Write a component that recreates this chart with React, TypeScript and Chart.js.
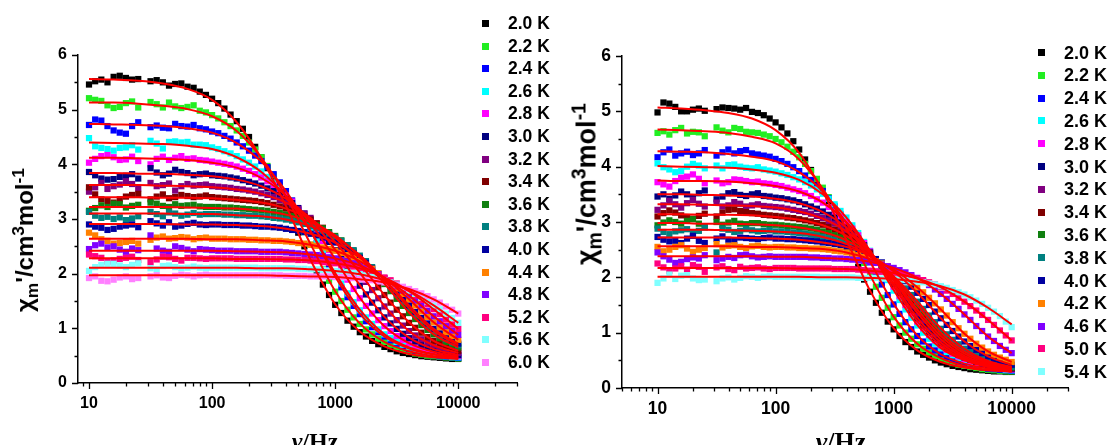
import React, { useEffect, useRef } from 'react';
import { Chart, registerables } from 'chart.js';

Chart.register(...registerables);

// ---------- frequencies (Hz) of the measured points ----------
const FREQ = [10, 11.22, 12.59, 14.13, 15.85, 17.78, 19.95, 22.39, 25.12, 28.18,
  31.62, 35.48, 39.81, 44.67, 50.12, 56.23, 63.1, 70.79, 79.43, 89.13,
  100, 112.2, 125.9, 141.3, 158.5, 177.8, 199.5, 223.9, 251.2, 281.8,
  316.2, 354.8, 398.1, 446.7, 501.2, 562.3, 631, 707.9, 794.3, 891.3,
  1000, 1122, 1259, 1413, 1585, 1778, 1995, 2239, 2512, 2818,
  3162, 3548, 3981, 4467, 5012, 5623, 6310, 7079, 7943, 8913, 10000];
// frequencies at which the fitted curves are tabulated
const FIT_FREQ = [10, 15.85, 25.12, 39.81, 63.1, 100, 158.5, 251.2, 398.1, 631, 1000, 1585, 2512, 3981, 6310, 10000];

// ---------- axis ticks ----------
const X_LABELS = [10, 100, 1000, 10000];
const TICK_MULTS = [1, 2, 3, 4, 5, 6, 7, 8, 9];
const DECADES = [10, 100, 1000];
const LEFT_X_TICKS = [9, ...DECADES.flatMap((d) => TICK_MULTS.map((m) => m * d)), 10000, 20000, 30000];
const RIGHT_X_TICKS = [5, 6, 7, 8, 9, ...DECADES.flatMap((d) => TICK_MULTS.map((m) => m * d)), 10000, 20000, 30000];

// ---------- legends ----------
const LEFT_TEMPS = ['2.0 K', '2.2 K', '2.4 K', '2.6 K', '2.8 K', '3.0 K', '3.2 K', '3.4 K', '3.6 K', '3.8 K', '4.0 K', '4.4 K', '4.8 K', '5.2 K', '5.6 K', '6.0 K'];
const RIGHT_TEMPS = ['2.0 K', '2.2 K', '2.4 K', '2.6 K', '2.8 K', '3.0 K', '3.2 K', '3.4 K', '3.6 K', '3.8 K', '4.0 K', '4.2 K', '4.6 K', '5.0 K', '5.4 K'];
const PALETTE = ['#000000', '#22ee22', '#0000ff', '#00ffff', '#ff00ff', '#000080', '#800080', '#800000', '#108010', '#008080', '#0000a0', '#ff8000', '#8000ff', '#ff0080', '#80ffff', '#ff80ff'];
const FIT_COLOR = '#ff0000';

// ---------- left panel: measured data (χm' / cm3 mol-1) ----------
const L20 = [5.46, 5.52, 5.55, 5.50, 5.60, 5.62, 5.58, 5.55, 5.56, null, 5.52, 5.54, 5.50, 5.44, 5.47, 5.48, 5.42, 5.40, 5.33, 5.27, 5.20, 5.12, 5.02, 4.91, 4.79, 4.65, 4.50, 4.32, 4.13, 3.93, 3.72, 3.49, 3.25, 3.00, 2.75, 2.50, 2.25, 2.02, 1.80, 1.61, 1.43, 1.28, 1.14, 1.03, 0.93, 0.85, 0.77, 0.71, 0.66, 0.62, 0.58, 0.55, 0.53, 0.51, 0.49, 0.48, 0.47, 0.46, 0.45, 0.44, 0.44];
const L22 = [5.21, 5.18, 5.16, 5.08, 5.03, 5.05, 5.12, 5.15, 5.04, null, 5.14, 5.10, 5.04, 5.13, 5.06, 5.03, 5.05, 5.08, 4.98, 4.95, 4.90, 4.84, 4.77, 4.70, 4.62, 4.52, 4.40, 4.27, 4.13, 3.97, 3.80, 3.62, 3.42, 3.21, 2.99, 2.76, 2.53, 2.30, 2.08, 1.87, 1.67, 1.50, 1.34, 1.20, 1.08, 0.98, 0.89, 0.81, 0.75, 0.70, 0.65, 0.61, 0.57, 0.54, 0.52, 0.50, 0.49, 0.48, 0.47, 0.46, 0.45];
const L24 = [4.72, 4.82, 4.80, 4.70, 4.62, 4.58, 4.56, 4.70, 4.77, null, 4.68, 4.71, 4.67, 4.66, 4.74, 4.70, 4.69, 4.72, 4.66, 4.64, 4.60, 4.57, 4.52, 4.47, 4.40, 4.33, 4.25, 4.16, 4.06, 3.95, 3.82, 3.67, 3.51, 3.34, 3.16, 2.97, 2.77, 2.56, 2.35, 2.15, 1.94, 1.75, 1.57, 1.41, 1.26, 1.13, 1.02, 0.93, 0.85, 0.78, 0.72, 0.67, 0.62, 0.59, 0.56, 0.53, 0.51, 0.49, 0.48, 0.47, 0.46];
const L26 = [4.48, 4.33, 4.30, 4.28, 4.25, 4.30, 4.31, 4.35, 4.27, null, 4.43, 4.38, 4.29, 4.41, 4.42, 4.40, 4.41, 4.36, 4.36, 4.35, 4.31, 4.28, 4.24, 4.20, 4.15, 4.09, 4.03, 3.96, 3.87, 3.77, 3.67, 3.55, 3.41, 3.27, 3.11, 2.95, 2.77, 2.59, 2.40, 2.21, 2.01, 1.82, 1.64, 1.48, 1.33, 1.20, 1.08, 0.98, 0.89, 0.82, 0.75, 0.70, 0.65, 0.61, 0.58, 0.55, 0.53, 0.51, 0.49, 0.48, 0.47];
const L28 = [4.03, 4.10, 4.15, 4.17, 4.13, 4.08, 4.09, 4.14, 4.06, null, 4.00, 4.10, 4.14, 4.08, 4.12, 4.15, 4.10, 4.11, 4.08, 4.07, 4.05, 4.03, 4.01, 3.99, 3.96, 3.92, 3.88, 3.82, 3.76, 3.69, 3.62, 3.53, 3.43, 3.32, 3.20, 3.06, 2.92, 2.76, 2.60, 2.43, 2.26, 2.08, 1.89, 1.72, 1.55, 1.41, 1.27, 1.15, 1.04, 0.95, 0.86, 0.79, 0.73, 0.68, 0.63, 0.60, 0.57, 0.54, 0.52, 0.50, 0.49];
const L30 = [3.86, 3.80, 3.74, 3.72, 3.73, 3.77, 3.79, 3.82, 3.74, null, 3.93, 3.85, 3.80, 3.83, 3.90, 3.86, 3.84, 3.80, 3.82, 3.83, 3.80, 3.79, 3.78, 3.76, 3.74, 3.71, 3.68, 3.65, 3.61, 3.56, 3.51, 3.44, 3.37, 3.29, 3.20, 3.10, 2.99, 2.86, 2.73, 2.58, 2.43, 2.28, 2.12, 1.95, 1.78, 1.62, 1.47, 1.33, 1.20, 1.09, 0.99, 0.90, 0.82, 0.76, 0.70, 0.66, 0.62, 0.59, 0.56, 0.53, 0.51];
const L32 = [3.50, 3.58, 3.66, 3.55, 3.60, 3.63, 3.69, 3.64, 3.56, null, 3.66, 3.60, 3.62, 3.65, 3.52, 3.60, 3.64, 3.61, 3.62, 3.63, 3.60, 3.59, 3.58, 3.57, 3.55, 3.54, 3.52, 3.50, 3.47, 3.44, 3.40, 3.35, 3.30, 3.24, 3.18, 3.10, 3.02, 2.92, 2.82, 2.70, 2.58, 2.45, 2.31, 2.16, 2.01, 1.85, 1.70, 1.55, 1.40, 1.27, 1.15, 1.05, 0.95, 0.87, 0.80, 0.74, 0.69, 0.65, 0.61, 0.58, 0.55];
const L34 = [3.58, 3.45, 3.36, 3.33, 3.30, 3.36, 3.41, 3.44, 3.46, null, 3.36, 3.41, 3.45, 3.38, 3.40, 3.44, 3.42, 3.40, 3.41, 3.43, 3.40, 3.39, 3.38, 3.37, 3.36, 3.35, 3.34, 3.33, 3.31, 3.29, 3.26, 3.23, 3.19, 3.15, 3.10, 3.05, 2.99, 2.92, 2.84, 2.75, 2.65, 2.54, 2.43, 2.31, 2.18, 2.04, 1.90, 1.75, 1.61, 1.47, 1.34, 1.22, 1.10, 1.01, 0.92, 0.84, 0.77, 0.72, 0.67, 0.63, 0.59];
const L36 = [3.15, 3.20, 3.25, 3.22, 3.28, 3.27, 3.21, 3.24, 3.26, null, 3.30, 3.28, 3.24, 3.22, 3.27, 3.24, 3.25, 3.26, 3.23, 3.22, 3.22, 3.22, 3.21, 3.21, 3.20, 3.19, 3.18, 3.17, 3.16, 3.15, 3.13, 3.11, 3.08, 3.05, 3.02, 2.98, 2.94, 2.89, 2.83, 2.76, 2.69, 2.61, 2.52, 2.41, 2.30, 2.19, 2.07, 1.94, 1.81, 1.68, 1.54, 1.41, 1.28, 1.17, 1.06, 0.97, 0.89, 0.82, 0.75, 0.70, 0.65];
const L38 = [3.13, 3.06, 3.02, 3.04, 3.00, 3.03, 2.98, 3.01, 3.05, null, 3.13, 3.09, 3.05, 3.12, 3.10, 3.06, 3.08, 3.11, 3.08, 3.09, 3.09, 3.09, 3.08, 3.08, 3.07, 3.07, 3.06, 3.06, 3.05, 3.04, 3.02, 3.01, 2.99, 2.97, 2.94, 2.91, 2.87, 2.83, 2.79, 2.73, 2.67, 2.60, 2.52, 2.43, 2.33, 2.23, 2.12, 2.00, 1.88, 1.75, 1.62, 1.49, 1.37, 1.25, 1.14, 1.04, 0.95, 0.87, 0.80, 0.74, 0.69];
const L40 = [2.90, 2.86, 2.84, 2.80, 2.82, 2.86, 2.88, 2.90, 2.85, null, 2.96, 2.92, 2.88, 2.94, 2.86, 2.88, 2.91, 2.93, 2.90, 2.89, 2.90, 2.90, 2.89, 2.89, 2.89, 2.88, 2.88, 2.87, 2.86, 2.86, 2.85, 2.84, 2.82, 2.80, 2.78, 2.76, 2.73, 2.70, 2.66, 2.62, 2.57, 2.51, 2.44, 2.37, 2.29, 2.20, 2.10, 2.00, 1.89, 1.78, 1.66, 1.54, 1.42, 1.30, 1.19, 1.09, 0.99, 0.91, 0.84, 0.78, 0.72];
const L44 = [2.75, 2.70, 2.63, 2.60, 2.55, 2.56, 2.58, 2.60, 2.55, null, 2.62, 2.66, 2.68, 2.64, 2.65, 2.67, 2.66, 2.63, 2.65, 2.66, 2.64, 2.64, 2.64, 2.63, 2.63, 2.63, 2.62, 2.62, 2.61, 2.61, 2.60, 2.60, 2.59, 2.58, 2.56, 2.55, 2.53, 2.51, 2.48, 2.45, 2.42, 2.38, 2.34, 2.29, 2.23, 2.16, 2.09, 2.01, 1.92, 1.83, 1.73, 1.63, 1.53, 1.42, 1.31, 1.21, 1.11, 1.02, 0.93, 0.86, 0.79];
const L48 = [2.45, 2.52, 2.55, 2.48, 2.50, 2.44, 2.40, 2.46, 2.43, null, 2.70, 2.46, 2.42, 2.40, 2.50, 2.47, 2.44, 2.41, 2.45, 2.44, 2.43, 2.42, 2.42, 2.42, 2.41, 2.41, 2.41, 2.41, 2.40, 2.40, 2.40, 2.40, 2.39, 2.38, 2.37, 2.36, 2.35, 2.34, 2.32, 2.30, 2.28, 2.25, 2.22, 2.19, 2.15, 2.10, 2.05, 1.99, 1.92, 1.85, 1.77, 1.69, 1.60, 1.51, 1.42, 1.32, 1.22, 1.13, 1.04, 0.96, 0.88];
const L52 = [2.35, 2.32, 2.29, 2.22, 2.24, 2.27, 2.29, 2.31, 2.25, null, 2.21, 2.26, 2.31, 2.30, 2.27, 2.24, 2.29, 2.29, 2.28, 2.27, 2.28, 2.28, 2.28, 2.28, 2.27, 2.27, 2.27, 2.27, 2.27, 2.27, 2.27, 2.27, 2.26, 2.26, 2.25, 2.25, 2.24, 2.23, 2.21, 2.20, 2.19, 2.17, 2.15, 2.13, 2.10, 2.07, 2.03, 1.98, 1.93, 1.88, 1.82, 1.75, 1.68, 1.60, 1.52, 1.44, 1.35, 1.26, 1.16, 1.07, 0.99];
const L56 = [2.05, 2.12, 2.16, 2.18, 2.18, 2.15, 2.12, 2.16, 2.19, null, 2.10, 2.08, 2.14, 2.15, 2.12, 2.10, 2.11, 2.13, 2.11, 2.10, 2.11, 2.11, 2.11, 2.11, 2.11, 2.11, 2.11, 2.11, 2.10, 2.10, 2.10, 2.10, 2.10, 2.10, 2.09, 2.09, 2.08, 2.08, 2.07, 2.06, 2.05, 2.04, 2.03, 2.01, 1.99, 1.97, 1.94, 1.91, 1.88, 1.84, 1.80, 1.75, 1.69, 1.63, 1.56, 1.49, 1.42, 1.35, 1.27, 1.19, 1.10];
const L60 = [1.92, 1.95, 1.87, 1.86, 1.89, 1.93, 1.95, 1.90, 1.92, null, 1.95, 1.97, 1.93, 1.92, 1.96, 1.98, 1.97, 1.95, 1.97, 1.98, 1.97, 1.97, 1.97, 1.97, 1.97, 1.97, 1.97, 1.97, 1.97, 1.97, 1.97, 1.97, 1.96, 1.96, 1.96, 1.96, 1.95, 1.95, 1.95, 1.95, 1.94, 1.94, 1.93, 1.92, 1.90, 1.89, 1.88, 1.86, 1.84, 1.82, 1.79, 1.76, 1.72, 1.68, 1.64, 1.59, 1.53, 1.47, 1.40, 1.34, 1.27];

// ---------- left panel: fitted curves ----------
const L20F = [5.56, 5.55, 5.53, 5.48, 5.38, 5.18, 4.77, 4.11, 3.24, 2.25, 1.44, 0.94, 0.67, 0.53, 0.47, 0.44];
const L22F = [5.13, 5.13, 5.11, 5.07, 5.01, 4.88, 4.61, 4.12, 3.42, 2.54, 1.68, 1.09, 0.75, 0.58, 0.49, 0.45];
const L24F = [4.74, 4.73, 4.72, 4.70, 4.66, 4.58, 4.39, 4.05, 3.51, 2.78, 1.95, 1.27, 0.85, 0.63, 0.52, 0.46];
const L26F = [4.40, 4.39, 4.38, 4.37, 4.34, 4.28, 4.13, 3.86, 3.41, 2.77, 2.01, 1.34, 0.89, 0.65, 0.53, 0.47];
const L28F = [4.12, 4.12, 4.11, 4.10, 4.08, 4.03, 3.94, 3.75, 3.43, 2.92, 2.27, 1.56, 1.04, 0.73, 0.57, 0.49];
const L30F = [3.84, 3.84, 3.83, 3.83, 3.81, 3.78, 3.72, 3.60, 3.37, 2.99, 2.44, 1.79, 1.21, 0.83, 0.62, 0.51];
const L32F = [3.62, 3.62, 3.62, 3.61, 3.60, 3.58, 3.54, 3.46, 3.30, 3.02, 2.58, 2.02, 1.41, 0.95, 0.69, 0.55];
const L34F = [3.40, 3.40, 3.40, 3.39, 3.39, 3.38, 3.35, 3.30, 3.19, 2.99, 2.66, 2.18, 1.61, 1.11, 0.77, 0.59];
const L36F = [3.22, 3.22, 3.22, 3.22, 3.21, 3.20, 3.19, 3.15, 3.08, 2.94, 2.70, 2.31, 1.82, 1.29, 0.89, 0.65];
const L38F = [3.10, 3.10, 3.10, 3.10, 3.09, 3.09, 3.07, 3.05, 2.99, 2.87, 2.67, 2.34, 1.88, 1.37, 0.95, 0.69];
const L40F = [2.91, 2.91, 2.91, 2.91, 2.90, 2.90, 2.89, 2.87, 2.82, 2.73, 2.57, 2.29, 1.89, 1.42, 0.99, 0.72];
const L44F = [2.64, 2.64, 2.64, 2.64, 2.64, 2.63, 2.63, 2.61, 2.59, 2.53, 2.42, 2.23, 1.92, 1.53, 1.11, 0.79];
const L48F = [2.42, 2.42, 2.42, 2.42, 2.42, 2.42, 2.41, 2.40, 2.39, 2.35, 2.28, 2.15, 1.92, 1.60, 1.22, 0.88];
const L52F = [2.28, 2.28, 2.28, 2.28, 2.28, 2.28, 2.27, 2.27, 2.26, 2.24, 2.19, 2.10, 1.93, 1.68, 1.35, 0.99];
const L56F = [2.11, 2.11, 2.11, 2.11, 2.11, 2.11, 2.11, 2.10, 2.10, 2.08, 2.05, 1.99, 1.88, 1.69, 1.42, 1.10];
const L60F = [1.97, 1.97, 1.97, 1.97, 1.97, 1.97, 1.97, 1.97, 1.96, 1.95, 1.94, 1.90, 1.84, 1.72, 1.53, 1.27];

// ---------- right panel: measured data ----------
const R20 = [4.98, 5.16, 5.14, 5.08, 5.00, 5.00, 5.03, 5.05, 5.01, null, 5.04, 5.07, 5.06, 5.05, 5.03, 5.06, 4.99, 4.97, 4.93, 4.87, 4.80, 4.71, 4.60, 4.46, 4.31, 4.13, 3.94, 3.75, 3.55, 3.34, 3.13, 2.91, 2.68, 2.43, 2.19, 1.96, 1.74, 1.54, 1.36, 1.20, 1.06, 0.94, 0.83, 0.74, 0.66, 0.60, 0.55, 0.50, 0.46, 0.43, 0.40, 0.38, 0.36, 0.34, 0.33, 0.32, 0.31, 0.30, 0.30, 0.29, 0.29];
const R22 = [4.61, 4.64, 4.58, 4.66, 4.70, 4.60, 4.63, 4.62, 4.55, null, 4.71, 4.65, 4.62, 4.70, 4.68, 4.63, 4.62, 4.61, 4.58, 4.55, 4.50, 4.44, 4.36, 4.27, 4.17, 4.05, 3.92, 3.78, 3.62, 3.45, 3.27, 3.08, 2.89, 2.69, 2.48, 2.26, 2.03, 1.83, 1.63, 1.45, 1.28, 1.13, 1.00, 0.89, 0.79, 0.71, 0.64, 0.58, 0.53, 0.49, 0.45, 0.42, 0.40, 0.38, 0.36, 0.34, 0.33, 0.32, 0.31, 0.30, 0.30];
const R24 = [4.17, 4.26, 4.31, 4.20, 4.24, 4.27, 4.21, 4.24, 4.30, null, 4.20, 4.26, 4.31, 4.24, 4.28, 4.30, 4.24, 4.22, 4.20, 4.18, 4.14, 4.10, 4.05, 3.99, 3.92, 3.84, 3.76, 3.66, 3.56, 3.43, 3.29, 3.14, 2.98, 2.81, 2.63, 2.45, 2.27, 2.07, 1.87, 1.68, 1.51, 1.34, 1.19, 1.06, 0.94, 0.84, 0.75, 0.68, 0.61, 0.56, 0.51, 0.47, 0.44, 0.41, 0.39, 0.37, 0.35, 0.34, 0.33, 0.32, 0.31];
const R26 = [4.06, 3.99, 3.95, 3.90, 3.92, 4.00, 4.05, 4.02, 3.97, null, 4.02, 3.97, 4.03, 4.04, 4.00, 3.98, 3.97, 3.99, 3.95, 3.93, 3.91, 3.88, 3.85, 3.81, 3.77, 3.72, 3.66, 3.59, 3.51, 3.42, 3.32, 3.20, 3.08, 2.94, 2.80, 2.64, 2.48, 2.31, 2.14, 1.95, 1.76, 1.59, 1.42, 1.27, 1.13, 1.00, 0.89, 0.80, 0.72, 0.65, 0.59, 0.54, 0.50, 0.46, 0.43, 0.40, 0.38, 0.36, 0.35, 0.33, 0.32];
const R28 = [3.72, 3.68, 3.64, 3.74, 3.80, 3.82, 3.86, 3.78, 3.70, null, 3.75, 3.70, 3.72, 3.77, 3.76, 3.74, 3.72, 3.73, 3.70, 3.69, 3.67, 3.65, 3.62, 3.59, 3.56, 3.52, 3.47, 3.41, 3.35, 3.27, 3.19, 3.10, 3.00, 2.88, 2.76, 2.62, 2.47, 2.32, 2.16, 2.00, 1.83, 1.66, 1.50, 1.35, 1.20, 1.08, 0.96, 0.86, 0.77, 0.69, 0.62, 0.57, 0.52, 0.48, 0.45, 0.42, 0.39, 0.37, 0.36, 0.34, 0.33];
const R30 = [3.46, 3.50, 3.42, 3.48, 3.55, 3.50, 3.44, 3.52, 3.57, null, 3.41, 3.46, 3.52, 3.54, 3.49, 3.47, 3.50, 3.52, 3.47, 3.46, 3.44, 3.43, 3.41, 3.39, 3.36, 3.32, 3.28, 3.24, 3.19, 3.13, 3.06, 2.99, 2.90, 2.80, 2.70, 2.58, 2.45, 2.31, 2.17, 2.03, 1.88, 1.72, 1.56, 1.41, 1.26, 1.13, 1.01, 0.90, 0.81, 0.73, 0.66, 0.60, 0.55, 0.51, 0.47, 0.44, 0.41, 0.39, 0.37, 0.35, 0.34];
const R32 = [3.22, 3.30, 3.38, 3.32, 3.26, 3.34, 3.40, 3.33, 3.28, null, 3.35, 3.28, 3.30, 3.36, 3.33, 3.28, 3.30, 3.32, 3.29, 3.28, 3.27, 3.26, 3.24, 3.22, 3.20, 3.18, 3.15, 3.11, 3.07, 3.02, 2.97, 2.90, 2.83, 2.75, 2.66, 2.56, 2.45, 2.33, 2.20, 2.07, 1.93, 1.79, 1.64, 1.49, 1.35, 1.22, 1.09, 0.98, 0.88, 0.79, 0.71, 0.64, 0.58, 0.53, 0.49, 0.46, 0.43, 0.40, 0.38, 0.36, 0.35];
const R34 = [3.10, 3.16, 3.21, 3.17, 3.12, 3.09, 3.06, 3.11, 3.15, null, 3.10, 3.17, 3.22, 3.23, 3.20, 3.18, 3.16, 3.15, 3.13, 3.12, 3.11, 3.10, 3.08, 3.07, 3.05, 3.03, 3.01, 2.98, 2.95, 2.91, 2.86, 2.81, 2.75, 2.68, 2.61, 2.52, 2.43, 2.32, 2.21, 2.09, 1.96, 1.83, 1.70, 1.55, 1.41, 1.28, 1.15, 1.04, 0.93, 0.84, 0.76, 0.69, 0.62, 0.57, 0.52, 0.48, 0.45, 0.42, 0.39, 0.37, 0.36];
const R36 = [2.94, 2.99, 3.03, 3.00, 2.97, 3.02, 3.05, 2.97, 2.91, null, 3.00, 2.95, 2.99, 3.02, 2.97, 2.96, 2.98, 2.98, 2.96, 2.95, 2.95, 2.94, 2.93, 2.92, 2.91, 2.90, 2.88, 2.86, 2.83, 2.80, 2.76, 2.72, 2.67, 2.61, 2.55, 2.48, 2.40, 2.31, 2.21, 2.10, 1.99, 1.87, 1.75, 1.62, 1.49, 1.36, 1.23, 1.11, 1.00, 0.90, 0.81, 0.73, 0.66, 0.60, 0.55, 0.51, 0.47, 0.44, 0.41, 0.39, 0.37];
const R38 = [2.88, 2.82, 2.78, 2.83, 2.85, 2.87, 2.80, 2.84, 2.90, null, 2.45, 2.88, 2.86, 2.82, 2.84, 2.87, 2.85, 2.83, 2.84, 2.85, 2.83, 2.83, 2.82, 2.81, 2.80, 2.79, 2.77, 2.75, 2.73, 2.71, 2.68, 2.64, 2.60, 2.56, 2.51, 2.45, 2.38, 2.30, 2.22, 2.12, 2.02, 1.91, 1.80, 1.68, 1.56, 1.43, 1.31, 1.19, 1.07, 0.97, 0.87, 0.79, 0.71, 0.65, 0.59, 0.54, 0.49, 0.46, 0.43, 0.40, 0.38];
const R40 = [2.73, 2.68, 2.65, 2.66, 2.62, 2.70, 2.75, 2.66, 2.62, null, 2.70, 2.74, 2.68, 2.66, 2.72, 2.71, 2.70, 2.69, 2.71, 2.72, 2.70, 2.70, 2.69, 2.69, 2.68, 2.67, 2.66, 2.65, 2.63, 2.62, 2.60, 2.58, 2.55, 2.52, 2.48, 2.44, 2.39, 2.33, 2.27, 2.19, 2.11, 2.02, 1.93, 1.83, 1.72, 1.61, 1.50, 1.38, 1.26, 1.14, 1.03, 0.93, 0.84, 0.76, 0.69, 0.63, 0.57, 0.52, 0.48, 0.45, 0.42];
const R42 = [2.55, 2.47, 2.50, 2.55, 2.58, 2.52, 2.46, 2.50, 2.53, null, 2.60, 2.54, 2.57, 2.58, 2.55, 2.53, 2.56, 2.57, 2.55, 2.54, 2.55, 2.55, 2.54, 2.54, 2.53, 2.53, 2.52, 2.52, 2.51, 2.50, 2.48, 2.47, 2.45, 2.43, 2.40, 2.37, 2.33, 2.29, 2.25, 2.20, 2.14, 2.07, 1.99, 1.91, 1.82, 1.73, 1.63, 1.53, 1.42, 1.31, 1.19, 1.08, 0.98, 0.89, 0.80, 0.73, 0.66, 0.60, 0.55, 0.51, 0.47];
const R46 = [2.45, 2.38, 2.32, 2.26, 2.28, 2.33, 2.36, 2.34, 2.40, null, 2.31, 2.34, 2.37, 2.35, 2.40, 2.41, 2.38, 2.36, 2.37, 2.38, 2.37, 2.37, 2.37, 2.37, 2.37, 2.37, 2.36, 2.36, 2.35, 2.35, 2.34, 2.34, 2.33, 2.32, 2.31, 2.30, 2.28, 2.26, 2.23, 2.20, 2.17, 2.13, 2.09, 2.04, 1.99, 1.93, 1.86, 1.78, 1.70, 1.61, 1.52, 1.43, 1.33, 1.23, 1.12, 1.03, 0.93, 0.85, 0.76, 0.69, 0.63];
const R50 = [2.25, 2.18, 2.12, 2.16, 2.20, 2.14, 2.22, 2.19, 2.10, null, 2.18, 2.20, 2.15, 2.13, 2.19, 2.16, 2.17, 2.18, 2.16, 2.15, 2.17, 2.17, 2.17, 2.17, 2.16, 2.16, 2.16, 2.16, 2.16, 2.16, 2.15, 2.15, 2.15, 2.15, 2.14, 2.13, 2.12, 2.11, 2.10, 2.09, 2.08, 2.06, 2.04, 2.01, 1.98, 1.95, 1.91, 1.87, 1.82, 1.76, 1.70, 1.63, 1.56, 1.48, 1.40, 1.32, 1.23, 1.14, 1.04, 0.95, 0.86];
const R54 = [1.90, 1.98, 2.05, 1.97, 2.03, 2.04, 1.98, 1.95, 1.96, null, 1.93, 1.98, 2.00, 1.96, 1.99, 2.02, 2.01, 1.99, 2.01, 2.02, 2.01, 2.01, 2.01, 2.01, 2.01, 2.01, 2.01, 2.01, 2.00, 2.00, 2.00, 2.00, 2.00, 2.00, 1.99, 1.99, 1.99, 1.99, 1.98, 1.98, 1.97, 1.96, 1.95, 1.94, 1.92, 1.91, 1.89, 1.87, 1.84, 1.81, 1.77, 1.73, 1.69, 1.64, 1.58, 1.52, 1.45, 1.38, 1.30, 1.20, 1.10];

// ---------- right panel: fitted curves ----------
const R20F = [5.07, 5.05, 5.02, 4.97, 4.87, 4.66, 4.25, 3.55, 2.68, 1.76, 1.08, 0.68, 0.47, 0.37, 0.32, 0.30];
const R22F = [4.67, 4.66, 4.64, 4.61, 4.54, 4.42, 4.13, 3.60, 2.88, 2.04, 1.29, 0.80, 0.54, 0.40, 0.33, 0.30];
const R24F = [4.28, 4.27, 4.26, 4.23, 4.18, 4.10, 3.90, 3.55, 2.98, 2.28, 1.52, 0.95, 0.61, 0.44, 0.35, 0.31];
const R26F = [4.01, 4.00, 3.99, 3.98, 3.95, 3.89, 3.76, 3.50, 3.08, 2.48, 1.77, 1.14, 0.72, 0.50, 0.38, 0.32];
const R28F = [3.75, 3.74, 3.74, 3.73, 3.70, 3.65, 3.55, 3.35, 3.00, 2.48, 1.84, 1.21, 0.77, 0.52, 0.39, 0.33];
const R30F = [3.50, 3.50, 3.49, 3.48, 3.46, 3.42, 3.34, 3.18, 2.90, 2.46, 1.89, 1.27, 0.82, 0.55, 0.41, 0.34];
const R32F = [3.32, 3.32, 3.31, 3.30, 3.29, 3.26, 3.19, 3.06, 2.83, 2.45, 1.94, 1.36, 0.88, 0.58, 0.43, 0.35];
const R34F = [3.14, 3.14, 3.13, 3.13, 3.12, 3.09, 3.04, 2.94, 2.75, 2.43, 1.97, 1.42, 0.94, 0.62, 0.45, 0.36];
const R36F = [2.98, 2.98, 2.97, 2.97, 2.96, 2.94, 2.90, 2.82, 2.67, 2.40, 1.99, 1.50, 1.00, 0.66, 0.47, 0.37];
const R38F = [2.86, 2.86, 2.86, 2.85, 2.84, 2.83, 2.80, 2.73, 2.60, 2.38, 2.02, 1.57, 1.08, 0.71, 0.49, 0.38];
const R40F = [2.72, 2.72, 2.72, 2.72, 2.71, 2.70, 2.68, 2.63, 2.55, 2.39, 2.11, 1.72, 1.26, 0.84, 0.57, 0.42];
const R42F = [2.56, 2.56, 2.56, 2.56, 2.55, 2.55, 2.53, 2.51, 2.45, 2.33, 2.14, 1.82, 1.42, 0.98, 0.66, 0.47];
const R46F = [2.38, 2.38, 2.38, 2.38, 2.38, 2.37, 2.37, 2.35, 2.33, 2.28, 2.17, 1.99, 1.70, 1.33, 0.93, 0.63];
const R50F = [2.17, 2.17, 2.17, 2.17, 2.17, 2.17, 2.16, 2.16, 2.15, 2.12, 2.08, 1.98, 1.82, 1.56, 1.23, 0.86];
const R54F = [2.01, 2.01, 2.01, 2.01, 2.01, 2.01, 2.01, 2.00, 2.00, 1.99, 1.97, 1.92, 1.84, 1.69, 1.45, 1.15];

const LEFT_DATA = [L20, L22, L24, L26, L28, L30, L32, L34, L36, L38, L40, L44, L48, L52, L56, L60];
const LEFT_FITS = [L20F, L22F, L24F, L26F, L28F, L30F, L32F, L34F, L36F, L38F, L40F, L44F, L48F, L52F, L56F, L60F];
const RIGHT_DATA = [R20, R22, R24, R26, R28, R30, R32, R34, R36, R38, R40, R42, R46, R50, R54];
const RIGHT_FITS = [R20F, R22F, R24F, R26F, R28F, R30F, R32F, R34F, R36F, R38F, R40F, R42F, R46F, R50F, R54F];

const SANS = '"Liberation Sans", Arial, Helvetica, sans-serif';
const SERIF = '"Liberation Serif", "Times New Roman", serif';

type PanelProps = {
  left: number;
  width: number;
  yAxisW: number;
  padRight: number;
  top: number;
  xAxisH: number;
  xMin: number;
  xTicks: number[];
  tickFont: number;
  data: (number | null)[][];
  fits: number[][];
  colors: string[];
};

function Panel(p: PanelProps) {
  const ref = useRef<HTMLCanvasElement>(null);
  useEffect(() => {
    if (!ref.current) return;
    const ticksPlugin = {
      id: 'originTicks',
      afterDraw(chart: any) {
        const { ctx, chartArea } = chart;
        const xs = chart.scales.x;
        const ys = chart.scales.y;
        ctx.save();
        ctx.strokeStyle = '#000';
        ctx.lineWidth = 1.3;
        ctx.beginPath();
        for (const t of xs.ticks) {
          const px = Math.round(xs.getPixelForValue(t.value)) + 0.5;
          const len = X_LABELS.includes(t.value) ? 6 : 3.5;
          ctx.moveTo(px, chartArea.bottom);
          ctx.lineTo(px, chartArea.bottom + len);
        }
        for (const t of ys.ticks) {
          const py = Math.round(ys.getPixelForValue(t.value)) + 0.5;
          const len = Number.isInteger(t.value) ? 6 : 3.5;
          ctx.moveTo(chartArea.left, py);
          ctx.lineTo(chartArea.left - len, py);
        }
        ctx.stroke();
        ctx.restore();
      },
    };

    const datasets: any[] = [];
    p.fits.forEach((f) => {
      datasets.push({
        data: FIT_FREQ.map((x, j) => ({ x, y: f[j] })),
        showLine: true,
        borderColor: FIT_COLOR,
        borderWidth: 2,
        pointRadius: 0,
        fill: false,
        cubicInterpolationMode: 'monotone',
        order: 0,
      });
    });
    p.data.forEach((d, i) => {
      datasets.push({
        data: FREQ.map((x, j) => ({ x, y: d[j] })).filter((pt) => pt.y !== null && pt.y !== undefined),
        showLine: false,
        backgroundColor: p.colors[i],
        borderColor: p.colors[i],
        borderWidth: 0,
        pointStyle: 'rect',
        pointRadius: 4.4,
        order: 1 + (p.data.length - 1 - i),
      });
    });

    const tickFont = { family: SANS, size: p.tickFont, weight: 'bold' as const };
    const chart = new Chart(ref.current, {
      type: 'scatter',
      data: { datasets },
      options: {
        responsive: false,
        animation: false,
        devicePixelRatio: 1,
        events: [],
        layout: { padding: { top: p.top, right: p.padRight, left: 0, bottom: 0 } },
        plugins: { legend: { display: false }, tooltip: { enabled: false } },
        scales: {
          x: {
            type: 'logarithmic',
            min: p.xMin,
            max: 30000,
            afterBuildTicks: (s: any) => {
              s.ticks = p.xTicks.map((v) => ({ value: v }));
            },
            afterFit: (s: any) => {
              s.height = p.xAxisH;
            },
            grid: { display: false, drawTicks: false },
            border: { display: true, color: '#000', width: 1.5 },
            ticks: {
              autoSkip: false,
              maxRotation: 0,
              padding: 11,
              color: '#000',
              font: tickFont,
              callback: (v: any) => (X_LABELS.includes(Number(v)) ? String(v) : ''),
            },
          },
          y: {
            min: 0,
            max: 6,
            afterFit: (s: any) => {
              s.width = p.yAxisW;
            },
            grid: { display: false, drawTicks: false },
            border: { display: true, color: '#000', width: 1.5 },
            ticks: {
              stepSize: 0.5,
              padding: 11,
              color: '#000',
              font: tickFont,
              callback: (v: any) => (Number.isInteger(Number(v)) ? String(v) : ''),
            },
          },
        },
      },
      plugins: [ticksPlugin],
    } as any);
    return () => chart.destroy();
  }, []);
  return (
    <canvas
      ref={ref}
      width={p.width}
      height={445}
      style={{ position: 'absolute', left: p.left, top: 0, width: p.width, height: 445 }}
    />
  );
}

type LegendProps = { temps: string[]; colors: string[]; sqX: number; textX: number; y0: number; dy: number; font: number };

function Legend({ temps, colors, sqX, textX, y0, dy, font }: LegendProps) {
  return (
    <>
      {temps.map((t, i) => {
        const y = y0 + i * dy;
        return (
          <React.Fragment key={'lg' + sqX + t}>
            <div style={{ position: 'absolute', left: sqX - 3.5, top: y - 3.5, width: 7, height: 7, background: colors[i] }} />
            <div
              style={{
                position: 'absolute',
                left: textX,
                top: y - font * 0.49,
                font: `bold ${font}px ${SANS}`,
                lineHeight: `${font}px`,
                whiteSpace: 'nowrap',
                color: '#000',
              }}
            >
              {t}
            </div>
          </React.Fragment>
        );
      })}
    </>
  );
}

function YTitle({ cx, cy, size }: { cx: number; cy: number; size: number }) {
  const supStyle: React.CSSProperties = { fontSize: '0.72em', verticalAlign: '0.5em', lineHeight: 0 };
  const subStyle: React.CSSProperties = { fontSize: '0.72em', verticalAlign: '-0.3em', lineHeight: 0 };
  return (
    <div
      style={{
        position: 'absolute',
        left: cx,
        top: cy,
        transform: 'translate(-50%, -50%) rotate(-90deg)',
        font: `bold ${size}px ${SANS}`,
        lineHeight: 1,
        whiteSpace: 'nowrap',
        color: '#000',
      }}
    >
      χ<span style={subStyle}>m</span>'/cm<span style={supStyle}>3</span>mol<span style={supStyle}>-1</span>
    </div>
  );
}

function XTitle({ cx, top, size }: { cx: number; top: number; size: number }) {
  return (
    <div
      style={{
        position: 'absolute',
        left: cx,
        top,
        transform: 'translateX(-50%)',
        font: `bold ${size}px ${SERIF}`,
        lineHeight: 1,
        whiteSpace: 'nowrap',
        color: '#000',
      }}
    >
      <i>ν</i>/Hz
    </div>
  );
}

export default function App() {
  return (
    <div
      style={{
        position: 'fixed',
        left: 0,
        top: 0,
        width: 1113,
        height: 445,
        overflow: 'hidden',
        background: '#ffffff',
      }}
    >
      <Panel
        left={0}
        width={556}
        yAxisW={78}
        padRight={39}
        top={55}
        xAxisH={62}
        xMin={8.14}
        xTicks={LEFT_X_TICKS}
        tickFont={16}
        data={LEFT_DATA}
        fits={LEFT_FITS}
        colors={PALETTE}
      />
      <Panel
        left={556}
        width={557}
        yAxisW={66}
        padRight={45}
        top={56}
        xAxisH={57}
        xMin={5}
        xTicks={RIGHT_X_TICKS}
        tickFont={17.5}
        data={RIGHT_DATA}
        fits={RIGHT_FITS}
        colors={PALETTE}
      />
      <Legend temps={LEFT_TEMPS} colors={PALETTE} sqX={485} textX={508} y0={23.5} dy={22.6} font={17.5} />
      <Legend temps={RIGHT_TEMPS} colors={PALETTE} sqX={1041} textX={1064} y0={52.5} dy={22.8} font={18} />
      <YTitle cx={25} cy={240} size={24} />
      <YTitle cx={587} cy={184} size={27} />
      <XTitle cx={315} top={429} size={24} />
      <XTitle cx={841} top={429} size={26} />
    </div>
  );
}
